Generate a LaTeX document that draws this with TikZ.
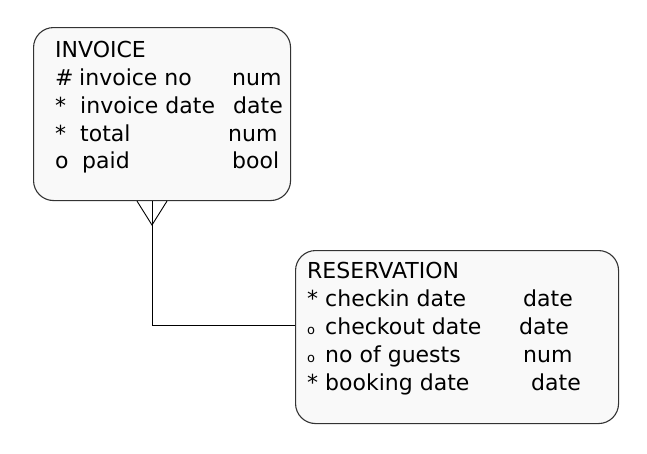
\documentclass[tikz,border=0pt]{standalone}
\usepackage{fontspec}
\setmainfont{DejaVu Sans}
\usepackage{xcolor}
\definecolor{boxfill}{HTML}{F9F9F9}
\definecolor{boxline}{HTML}{333333}
\tikzset{
  entity/.style={draw=boxline,fill=boxfill,line width=1.1pt,rounded corners=20pt,
    anchor=north west,inner sep=0pt},
  txt/.style={anchor=base west,inner sep=0pt,font=\fontsize{22}{28}\selectfont},
  small/.style={anchor=base west,inner sep=0pt,font=\fontsize{13}{16}\selectfont},
  link/.style={draw=black,line width=0.9pt}
}
\begin{document}
\begin{tikzpicture}[x=1pt,y=-1pt]
      \useasboundingbox (0,0) rectangle (647,453);
      % entities
      \node[entity,minimum width=257pt,minimum height=173pt] (invoice) at (33,27) {};
      \node[entity,minimum width=323pt,minimum height=173pt] (reservation) at (295,250) {};
      % invoice attributes
      \node[txt] (inv) at (55,57) {INVOICE};
      \node[txt] (invnok) at (55,85) {\#};
      \node[txt] (invno) at (79,85) {invoice no};
      \node[txt] (invnot) at (232,85) {num};
      \node[txt] (invdatek) at (55,113) {*};
      \node[txt] (invdate) at (80,113) {invoice date};
      \node[txt] (invdatet) at (233,113) {date};
      \node[txt] (totalk) at (55,141) {*};
      \node[txt] (total) at (80,141) {total};
      \node[txt] (totalt) at (228,141) {num};
      \node[txt] (paidk) at (55,168) {o};
      \node[txt] (paid) at (82,168) {paid};
      \node[txt] (paidt) at (232,168) {bool};
      % reservation attributes
      \node[txt] (res) at (307,278) {RESERVATION};
      \node[txt] (checkink) at (307,306) {*};
      \node[txt] (checkin) at (325,306) {checkin date};
      \node[txt] (checkint) at (523,306) {date};
      \node[small] (checkoutk) at (307,334) {o};
      \node[txt] (checkout) at (325,334) {checkout date};
      \node[txt] (checkoutt) at (519,334) {date};
      \node[small] (guestsk) at (307,362) {o};
      \node[txt] (guests) at (325,362) {no of guests};
      \node[txt] (guestst) at (523,362) {num};
      \node[txt] (bookingk) at (307,390) {*};
      \node[txt] (booking) at (325,390) {booking date};
      \node[txt] (bookingt) at (531,390) {date};
      % relationship
      \coordinate (footl) at (137,0);
      \coordinate (footr) at (167,0);
      \coordinate (foot) at (152,225);
      \coordinate (bend) at (152,325);
      \draw[link] (invoice.south -| footl) -- (foot) -- (invoice.south -| footr);
      \draw[link] (invoice.south -| bend) -- (bend) -- (bend -| reservation.west);
    \end{tikzpicture}
\end{document}
